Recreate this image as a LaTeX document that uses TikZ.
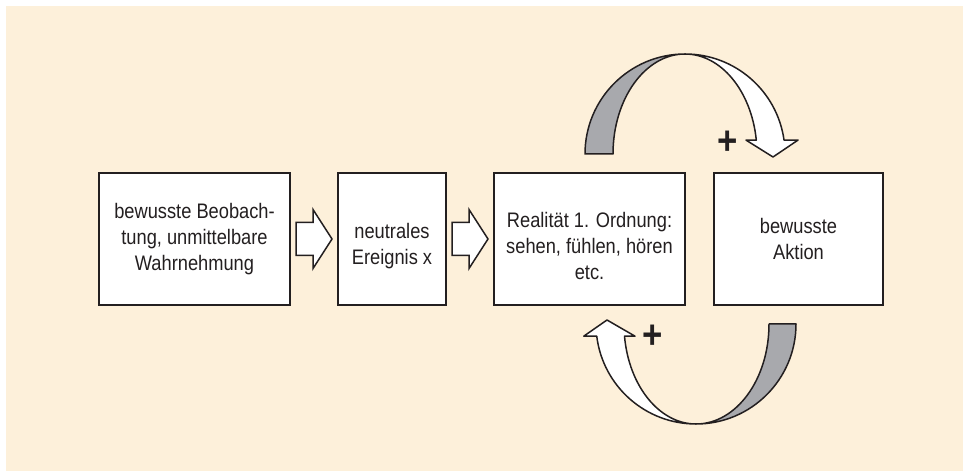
\documentclass[tikz,border=0pt]{standalone}
\usepackage{fontspec}
\setmainfont{Liberation Sans}[FakeStretch=0.87]
\usetikzlibrary{calc}

\definecolor{bgbeige}{RGB}{253,240,218}
\definecolor{ribbongray}{RGB}{168,169,173}
\definecolor{inkblack}{RGB}{35,31,32}

\begin{document}
\begin{tikzpicture}[x=1pt, y=1pt,
    box/.style={draw=inkblack, line width=2pt, fill=white, minimum height=132pt, inner sep=0pt},
    txt/.style={align=center, text=inkblack, inner sep=0pt, font=\fontsize{21}{26}\selectfont},
    fatarrow/.style={draw=inkblack, line width=1.5pt, fill=white, line join=miter},
    ribbon/.style={draw=inkblack, line width=1.5pt, line join=round},
    plus/.style={text=inkblack, inner sep=0pt, font=\fontsize{40}{40}\selectfont\bfseries}]

    % --- Background panel ---
    \useasboundingbox (0,0) rectangle (963,471);
    \fill[bgbeige] (6,0) rectangle (963,465);

    % --- Boxes ---
    \node[box, minimum width=191pt] (b1) at (194.5,232) {};
    \node[box, minimum width=108pt] (b2) at (392,232) {};
    \node[box, minimum width=191pt] (b3) at (589.5,232) {};
    \node[box, minimum width=169pt] (b4) at (798.5,232) {};

    % --- Texts in the boxes ---
    \node[txt] (t1) at (b1.center) {bewusste Beobach-\\tung, unmittelbare\\Wahrnehmung};
    \node[txt] (t2) at ([yshift=-7pt]b2.center) {neutrales\\Ereignis x};
    \node[txt] (t3) at ([yshift=-7pt]b3.center) {Realität 1. Ordnung:\\sehen, fühlen, hören\\etc.};
    \node[txt] (t4) at (b4.center) {bewusste\\Aktion};

    % --- Block arrows between the boxes ---
    \draw[fatarrow] ($(b1.east)+(5,16.5)$) -- ($(b2.west)+(-24,16.5)$) -- ($(b2.west)+(-24,29.5)$)
        -- ($(b2.west)+(-5,0)$) -- ($(b2.west)+(-24,-29.5)$) -- ($(b2.west)+(-24,-16.5)$)
        -- ($(b1.east)+(5,-16.5)$) -- cycle;
    \draw[fatarrow] ($(b2.east)+(5,16.5)$) -- ($(b3.west)+(-24,16.5)$) -- ($(b3.west)+(-24,29.5)$)
        -- ($(b3.west)+(-5,0)$) -- ($(b3.west)+(-24,-29.5)$) -- ($(b3.west)+(-24,-16.5)$)
        -- ($(b2.east)+(5,-16.5)$) -- cycle;

    % --- Centres of the two loops ---
    \coordinate (topc) at ($(b3.north east)+(-1,18)$);
    \coordinate (botc) at ($(b4.south west)+(-17,-18)$);

    % --- Upper loop: from Realitaet to Aktion ---
    \filldraw[ribbon, fill=ribbongray] ($(topc)+(-100,0)$) arc[start angle=180, end angle=90, radius=100]
        arc[start angle=90, end angle=180, x radius=72, y radius=100] -- cycle;
    \filldraw[ribbon, fill=white] ($(topc)+(0,100)$) arc[start angle=90, end angle=8, radius=100]
        -- ++(14,0) -- ($(topc)+(88,-3)$) -- ($(topc)+(61,13.9)$) -- ($(topc)+(71.3,13.9)$)
        arc[start angle=8, end angle=90, x radius=72, y radius=100] -- cycle;
    \node[plus] (p1) at ($(topc)+(43,11)$) {+};

    % --- Lower loop: from Aktion back to Realitaet ---
    \filldraw[ribbon, fill=ribbongray] ($(botc)+(100,0)$) arc[start angle=0, end angle=-90, radius=100]
        arc[start angle=270, end angle=360, x radius=73, y radius=100] -- cycle;
    \filldraw[ribbon, fill=white] ($(botc)+(0,-100)$) arc[start angle=270, end angle=187, radius=100]
        -- ++(-13,0) -- ($(botc)+(-89,4)$) -- ($(botc)+(-61,-12.2)$) -- ($(botc)+(-71.5,-12.2)$)
        arc[start angle=187, end angle=270, x radius=72, y radius=100] -- cycle;
    \node[plus] (p2) at ($(botc)+(-43,-13)$) {+};

\end{tikzpicture}
\end{document}
